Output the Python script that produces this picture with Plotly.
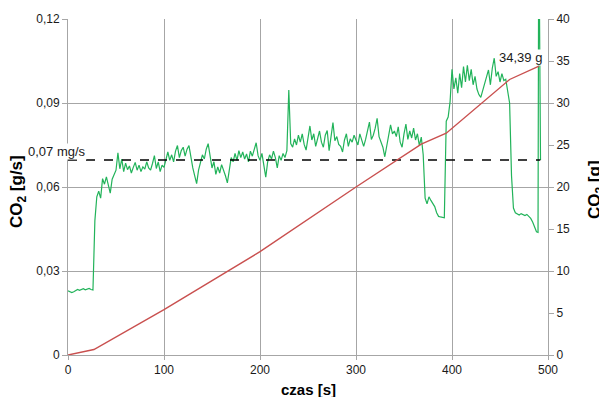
import plotly.graph_objects as go

# Time base of the CO2 rate record [s] (2 s sampling) and the rate values [g/s]
time_s = list(range(0, 490, 2))
co2_rate = [
    0.0229, 0.0226, 0.0223, 0.0226, 0.0231, 0.0234, 0.0231, 0.0233, 0.0237, 0.0233,
    0.0235, 0.0238, 0.0234, 0.0232, 0.0480, 0.0565, 0.0585, 0.0560, 0.0630, 0.0610,
    0.0636, 0.0605, 0.0578, 0.0628, 0.0642, 0.0660, 0.0722, 0.0665, 0.0700, 0.0655,
    0.0685, 0.0662, 0.0675, 0.0650, 0.0670, 0.0688, 0.0660, 0.0678, 0.0655, 0.0672,
    0.0664, 0.0690, 0.0668, 0.0660, 0.0684, 0.0712, 0.0666, 0.0690, 0.0655, 0.0678,
    0.0670, 0.0700, 0.0725, 0.0695, 0.0715, 0.0690, 0.0728, 0.0748, 0.0705, 0.0730,
    0.0742, 0.0710, 0.0735, 0.0748, 0.0700, 0.0668, 0.0640, 0.0612, 0.0660, 0.0690,
    0.0715, 0.0700, 0.0735, 0.0755, 0.0705, 0.0668, 0.0690, 0.0645, 0.0672, 0.0650,
    0.0680, 0.0662, 0.0640, 0.0615, 0.0670, 0.0705, 0.0690, 0.0720, 0.0695, 0.0730,
    0.0705, 0.0725, 0.0700, 0.0718, 0.0690, 0.0728, 0.0710, 0.0740, 0.0758, 0.0712,
    0.0695, 0.0720, 0.0668, 0.0635, 0.0690, 0.0715, 0.0700, 0.0728, 0.0705, 0.0668,
    0.0712, 0.0695, 0.0720, 0.0705, 0.0730, 0.0946, 0.0755, 0.0742, 0.0772, 0.0750,
    0.0785, 0.0760, 0.0790, 0.0752, 0.0732, 0.0775, 0.0818, 0.0768, 0.0790, 0.0745,
    0.0770, 0.0800, 0.0760, 0.0742, 0.0785, 0.0802, 0.0730, 0.0775, 0.0830, 0.0765,
    0.0780, 0.0752, 0.0745, 0.0725, 0.0768, 0.0790, 0.0745, 0.0772, 0.0760, 0.0785,
    0.0770, 0.0750, 0.0790, 0.0765, 0.0745, 0.0770, 0.0800, 0.0832, 0.0770, 0.0785,
    0.0810, 0.0845, 0.0780, 0.0760, 0.0742, 0.0708, 0.0745, 0.0780, 0.0822, 0.0790,
    0.0800, 0.0780, 0.0815, 0.0760, 0.0742, 0.0790, 0.0825, 0.0770, 0.0800, 0.0775,
    0.0810, 0.0768, 0.0790, 0.0748, 0.0778, 0.0715, 0.0560, 0.0540, 0.0565, 0.0552,
    0.0540, 0.0530, 0.0508, 0.0495, 0.0493, 0.0492, 0.0490, 0.0835, 0.0850, 0.0905,
    0.1020, 0.0950, 0.0990, 0.0935, 0.1005, 0.0955, 0.1030, 0.0975, 0.1035, 0.0980,
    0.1020, 0.0965, 0.0995, 0.0950, 0.0930, 0.0920, 0.0945, 0.0975, 0.1000, 0.1018,
    0.0965, 0.1025, 0.1060, 0.0995, 0.1012, 0.0975, 0.1005, 0.0980, 0.0985, 0.0940,
    0.0900, 0.0640, 0.0525, 0.0508, 0.0503, 0.0500, 0.0505, 0.0500, 0.0498, 0.0502,
    0.0495, 0.0488, 0.0475, 0.0455, 0.0440,
]
# Final burst at the end of the record (goes off scale)
end_time_s = [489.6, 490.4, 492.2]
end_rate = [0.0438, 0.16, 0.0696]

# Cumulative CO2 mass [g]
mass_time_s = [0, 27, 100, 200, 300, 368, 394, 460, 490.6]
co2_mass = [0, 0.65, 5.4, 12.3, 20.0, 25.1, 26.4, 32.8, 34.39]

# Mean emission rate [g/s]
mean_rate = 0.0696
mean_span_s = [0, 492]

# Axis ticks
x_ticks = [0, 100, 200, 300, 400, 500]
y_ticks = [0, 0.03, 0.06, 0.09, 0.12]
y_ticktext = ["0", "0,03", "0,06", "0,09", "0,12"]
y2_ticks = [0, 5, 10, 15, 20, 25, 30, 35, 40]

GREEN = "#22b35a"
RED = "#c9504f"
GRID = "#a6a6a6"
FONT = "Liberation Sans, Arial, sans-serif"

fig = go.Figure()
fig.add_trace(go.Scatter(
    x=time_s + end_time_s, y=co2_rate + end_rate, mode="lines",
    line=dict(color=GREEN, width=1.2), yaxis="y", showlegend=False))
fig.add_trace(go.Scatter(
    x=mean_span_s, y=[mean_rate, mean_rate], mode="lines",
    line=dict(color="black", width=1.5, dash="dash"), yaxis="y", showlegend=False))
fig.add_trace(go.Scatter(
    x=mass_time_s, y=co2_mass, mode="lines",
    line=dict(color=RED, width=1.4), yaxis="y2", showlegend=False))

W, H = 599, 397
L, R, T, B = 68, 51, 19, 42
pw, ph = W - L - R, H - T - B


def px(xp):
    return (xp - L) / pw


def py(yp):
    return (H - B - yp) / ph


def fmt_pl(v, nd):
    return f"{v:.{nd}f}".replace(".", ",")


def label(text, xp, yp, size, angle=0, bg=None, color="#1a1a1a"):
    d = dict(text=text, x=px(xp), y=py(yp), xref="paper", yref="paper",
             xanchor="center", yanchor="middle", showarrow=False, textangle=angle,
             font=dict(size=size, color=color, family=FONT), borderpad=0)
    if bg:
        d["bgcolor"] = bg
    return d


annotations = [
    label(f"{fmt_pl(mean_rate, 2)} mg/s", 57, 151, 13, bg="white"),
    label(f"{fmt_pl(co2_mass[-1], 2)} g", 520, 57, 13, bg="white"),
    label("<b>czas [s]</b>", 308, 389, 15, color="black"),
    label("<b>CO<sub>2</sub> [g/s]</b>", 18, 192, 17, angle=-90, color="black"),
    label("<b>CO<sub>2</sub> [g]</b>", 596, 190, 17, angle=-90, color="black"),
]

fig.update_layout(
    width=W, height=H,
    margin=dict(l=L, r=R, t=T, b=B, pad=0),
    paper_bgcolor="white", plot_bgcolor="white",
    font=dict(family=FONT, size=12, color="#1a1a1a"),
    xaxis=dict(range=[0, 500], tickvals=x_ticks, showgrid=True, gridcolor=GRID, gridwidth=1,
               ticks="outside", ticklen=4, tickcolor=GRID, showline=True, linecolor=GRID,
               zeroline=False, tickfont=dict(size=12)),
    yaxis=dict(range=[0, 0.12], tickvals=y_ticks, ticktext=y_ticktext, showgrid=True,
               gridcolor=GRID, gridwidth=1, ticks="outside", ticklen=5, tickcolor=GRID,
               showline=True, linecolor=GRID, zeroline=False, tickfont=dict(size=12)),
    yaxis2=dict(range=[0, 40], tickvals=y2_ticks, overlaying="y", side="right", showgrid=False,
                ticks="outside", ticklen=5, tickcolor=GRID, showline=True, linecolor=GRID,
                zeroline=False, tickfont=dict(size=12)),
    annotations=annotations,
)

fig.write_html("out.html")
